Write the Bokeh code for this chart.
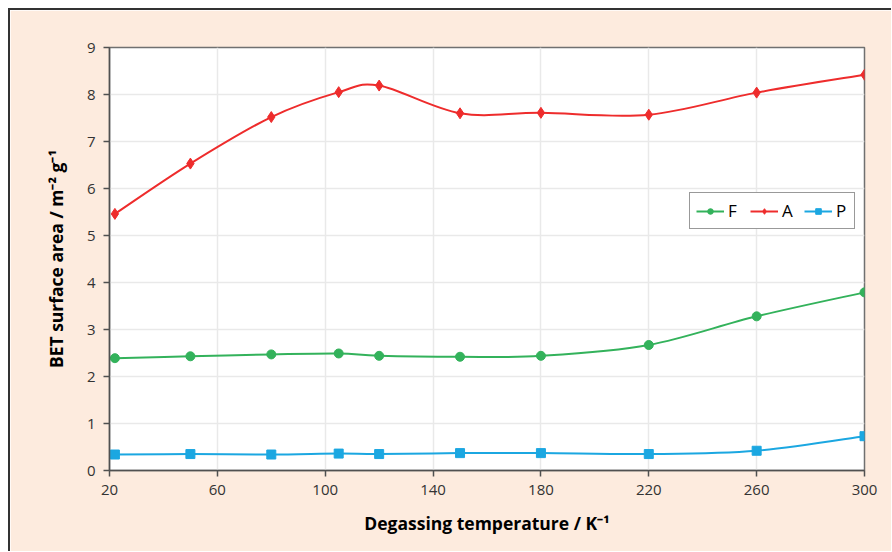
import numpy as np
from bokeh.plotting import figure
from bokeh.models import Legend, LegendItem, FixedTicker, ColumnDataSource
from bokeh.embed import file_html
from bokeh.resources import INLINE

temps = [22, 50, 80, 105, 120, 150, 180, 220, 260, 300]
F_vals = [2.39, 2.43, 2.47, 2.49, 2.44, 2.42, 2.44, 2.67, 3.28, 3.79]
A_vals = [5.46, 6.53, 7.52, 8.05, 8.19, 7.60, 7.61, 7.57, 8.04, 8.42]
P_vals = [0.34, 0.35, 0.34, 0.36, 0.35, 0.37, 0.37, 0.35, 0.42, 0.73]
x_ticks = [20, 60, 100, 140, 180, 220, 260, 300]
y_ticks = [0, 1, 2, 3, 4, 5, 6, 7, 8, 9]

FONT = "Open Sans"
PEACH = "#FDEBDE"

p = figure(width=883, height=543, x_range=(20, 300), y_range=(0, 9),
           output_backend="svg", toolbar_location=None,
           min_border_left=99, min_border_right=29, min_border_top=37, min_border_bottom=83,
           background_fill_color="white", border_fill_color=PEACH,
           styles={"margin-left": "8px", "margin-top": "8px",
                   "border-left": "2px solid #333333", "border-top": "2px solid #333333"})
p.outline_line_color = "#707070"
p.outline_line_width = 1.5

for ax in (p.xaxis[0], p.yaxis[0]):
    ax.axis_line_color = "#505050"
    ax.axis_line_width = 1.5
    ax.major_tick_line_color = "#505050"
    ax.major_tick_line_width = 1.5
    ax.major_tick_out = 6
    ax.major_tick_in = 0
    ax.minor_tick_line_color = None
    ax.major_label_text_font = FONT
    ax.major_label_text_font_size = "15px"
    ax.major_label_text_color = "#333333"
    ax.axis_label_text_font = FONT
    ax.axis_label_text_font_style = "bold"
    ax.axis_label_text_font_size = "17.5px"
    ax.axis_label_text_color = "#000000"

p.xaxis.ticker = FixedTicker(ticks=x_ticks)
p.yaxis.ticker = FixedTicker(ticks=y_ticks)
p.xaxis.axis_label = "Degassing temperature / K\u207b\u00b9"
p.yaxis.axis_label = "BET surface area / m\u207b\u00b2 g\u207b\u00b9"
p.xaxis.axis_label_standoff = 13
p.yaxis.axis_label_standoff = 16
p.xaxis.major_label_standoff = 8
p.yaxis.major_label_standoff = 8

p.xgrid.grid_line_color = "#E9E9E9"
p.ygrid.grid_line_color = "#E9E9E9"
p.xgrid.grid_line_width = 1.5
p.ygrid.grid_line_width = 1.5


def smooth_segments(xs, ys):
    xs = np.asarray(xs, float)
    ys = np.asarray(ys, float)
    n = len(xs)
    d = dict(x0=[], y0=[], x1=[], y1=[], cx0=[], cy0=[], cx1=[], cy1=[])
    for i in range(n - 1):
        im = max(i - 1, 0)
        ip2 = min(i + 2, n - 1)
        d["x0"].append(xs[i]); d["y0"].append(ys[i])
        d["x1"].append(xs[i + 1]); d["y1"].append(ys[i + 1])
        d["cx0"].append(xs[i] + (xs[i + 1] - xs[im]) / 6)
        d["cy0"].append(ys[i] + (ys[i + 1] - ys[im]) / 6)
        d["cx1"].append(xs[i + 1] - (xs[ip2] - xs[i]) / 6)
        d["cy1"].append(ys[i + 1] - (ys[ip2] - ys[i]) / 6)
    return ColumnDataSource(d)


series = [
    ("F", F_vals, "#33B25B", "circle", 9),
    ("A", A_vals, "#EE2C2C", "diamond", 11),
    ("P", P_vals, "#1BA7E1", "square", 9),
]
items = []
for name, vals, color, marker, size in series:
    src = smooth_segments(temps, vals)
    p.bezier(x0="x0", y0="y0", x1="x1", y1="y1", cx0="cx0", cy0="cy0",
             cx1="cx1", cy1="cy1", source=src, line_color=color, line_width=2)
    mr = p.scatter(temps, vals, marker=marker, size=size, fill_color=color,
                   line_color=color)
    lr = p.line(x=[np.nan], y=[np.nan], line_color=color, line_width=2)
    items.append(LegendItem(label=name, renderers=[lr, mr]))

legend = Legend(items=items, orientation="horizontal", location=(580, 241),
                label_text_font=FONT, label_text_font_size="17px",
                label_text_color="#000000", glyph_width=28, glyph_height=14,
                label_width=12, label_height=12,
                label_standoff=4, spacing=10, padding=6, margin=0,
                border_line_color="#333333", border_line_width=1.5,
                background_fill_color="white", background_fill_alpha=1)
p.add_layout(legend, "center")

open("out.html", "w").write(file_html(p, INLINE))
